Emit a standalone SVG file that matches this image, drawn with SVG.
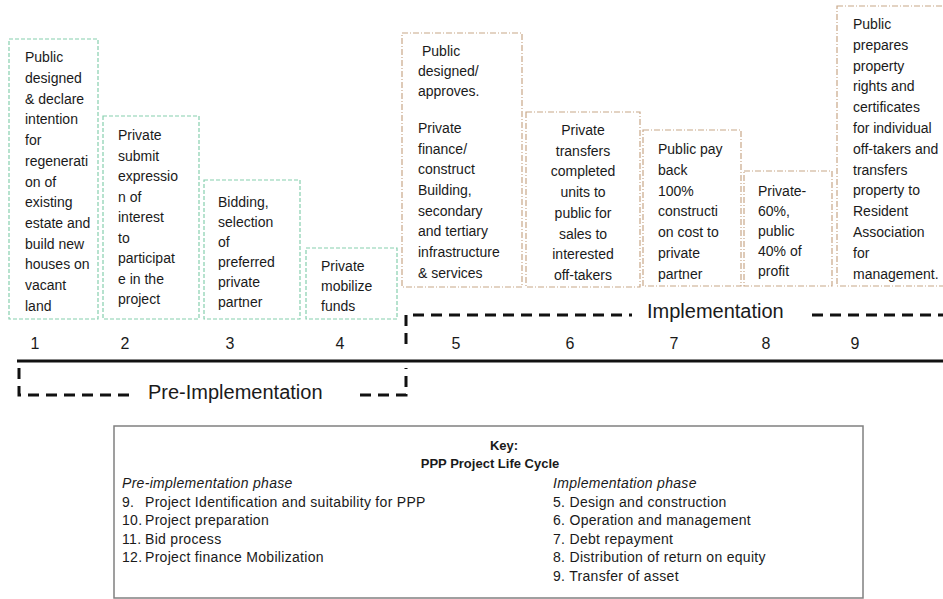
<svg xmlns="http://www.w3.org/2000/svg" width="943" height="599" viewBox="0 0 943 599">
<style>
.bg{fill:#ffffff}
.g{fill:#ffffff;stroke:#86cfae;stroke-width:1.2;stroke-dasharray:4 2}
.o{fill:#ffffff;stroke:#c8a788;stroke-width:1.2;stroke-dasharray:6 2 1 2}
.t{font-family:"Liberation Sans",Arial,sans-serif;font-size:14px;fill:#1a1a1a}
.num{font-family:"Liberation Sans",Arial,sans-serif;font-size:16px;fill:#1a1a1a;text-anchor:middle}
.ph{font-family:"Liberation Sans",Arial,sans-serif;font-size:20px;fill:#1a1a1a}
.dash{fill:none;stroke:#111;stroke-width:3;stroke-dasharray:11 7}
.k{font-family:"Liberation Sans",Arial,sans-serif;font-size:14px;fill:#1a1a1a;letter-spacing:0.3px}
.kb{font-weight:bold;font-size:13px;letter-spacing:0}
.ki{font-style:italic}
</style>
<rect class="bg" x="0" y="0" width="943" height="599"/>

<g id="node1">
<rect class="g" x="9" y="39" width="89" height="280"/>
<text class="t" x="25" y="62.3"><tspan x="25">Public</tspan><tspan x="25" dy="20.7">designed</tspan><tspan x="25" dy="20.7">&amp; declare</tspan><tspan x="25" dy="20.7">intention</tspan><tspan x="25" dy="20.7">for</tspan><tspan x="25" dy="20.7">regenerati</tspan><tspan x="25" dy="20.7">on of</tspan><tspan x="25" dy="20.7">existing</tspan><tspan x="25" dy="20.7">estate and</tspan><tspan x="25" dy="20.7">build new</tspan><tspan x="25" dy="20.7">houses on</tspan><tspan x="25" dy="20.7">vacant</tspan><tspan x="25" dy="20.7">land</tspan></text>
</g>
<g id="node2">
<rect class="g" x="103" y="116" width="96" height="203"/>
<text class="t" x="118" y="140"><tspan x="118">Private</tspan><tspan x="118" dy="20.5">submit</tspan><tspan x="118" dy="20.5">expressio</tspan><tspan x="118" dy="20.5">n of</tspan><tspan x="118" dy="20.5">interest</tspan><tspan x="118" dy="20.5">to</tspan><tspan x="118" dy="20.5">participat</tspan><tspan x="118" dy="20.5">e in the</tspan><tspan x="118" dy="20.5">project</tspan></text>
</g>
<g id="node3">
<rect class="g" x="204" y="180" width="96" height="139"/>
<text class="t" x="218" y="206.7"><tspan x="218">Bidding,</tspan><tspan x="218" dy="20">selection</tspan><tspan x="218" dy="20">of</tspan><tspan x="218" dy="20">preferred</tspan><tspan x="218" dy="20">private</tspan><tspan x="218" dy="20">partner</tspan></text>
</g>
<g id="node4">
<rect class="g" x="306" y="248" width="91" height="71"/>
<text class="t" x="321" y="271"><tspan x="321">Private</tspan><tspan x="321" dy="20">mobilize</tspan><tspan x="321" dy="20">funds</tspan></text>
</g>
<g id="node5">
<rect class="o" x="402" y="33" width="120" height="254"/>
<text class="t" x="418" y="55.7"><tspan x="422">Public</tspan><tspan x="418" dy="20.5">designed/</tspan><tspan x="418" dy="20">approves.</tspan><tspan x="418" dy="36.6">Private</tspan><tspan x="418" dy="20.7">finance/</tspan><tspan x="418" dy="20.7">construct</tspan><tspan x="418" dy="20.7">Building,</tspan><tspan x="418" dy="20.7">secondary</tspan><tspan x="418" dy="20.7">and tertiary</tspan><tspan x="418" dy="20.7">infrastructure</tspan><tspan x="418" dy="20.7">&amp; services</tspan></text>
</g>
<g id="node6">
<rect class="o" x="526" y="112" width="114" height="175"/>
<text class="t" x="583" y="135" text-anchor="middle"><tspan x="583">Private</tspan><tspan x="583" dy="20.7">transfers</tspan><tspan x="583" dy="20.7">completed</tspan><tspan x="583" dy="20.7">units to</tspan><tspan x="583" dy="20.7">public for</tspan><tspan x="583" dy="20.7">sales to</tspan><tspan x="583" dy="20.7">interested</tspan><tspan x="583" dy="20.7">off-takers</tspan></text>
</g>
<g id="node7">
<rect class="o" x="643" y="130" width="98" height="156"/>
<text class="t" x="658" y="154.3"><tspan x="658">Public pay</tspan><tspan x="658" dy="20.7">back</tspan><tspan x="658" dy="20.7">100%</tspan><tspan x="658" dy="20.7">constructi</tspan><tspan x="658" dy="20.7">on cost to</tspan><tspan x="658" dy="20.7">private</tspan><tspan x="658" dy="20.7">partner</tspan></text>
</g>
<g id="node8">
<rect class="o" x="744" y="171" width="88" height="115"/>
<text class="t" x="758" y="195.7"><tspan x="758">Private-</tspan><tspan x="758" dy="20.1">60%,</tspan><tspan x="758" dy="20.1">public</tspan><tspan x="758" dy="20.1">40% of</tspan><tspan x="758" dy="20.1">profit</tspan></text>
</g>
<g id="node9">
<rect class="o" x="837" y="6" width="112" height="280"/>
<text class="t" x="853" y="29"><tspan x="853">Public</tspan><tspan x="853" dy="20.8">prepares</tspan><tspan x="853" dy="20.8">property</tspan><tspan x="853" dy="20.8">rights and</tspan><tspan x="853" dy="20.8">certificates</tspan><tspan x="853" dy="20.8">for individual</tspan><tspan x="853" dy="20.8">off-takers and</tspan><tspan x="853" dy="20.8">transfers</tspan><tspan x="853" dy="20.8">property to</tspan><tspan x="853" dy="20.8">Resident</tspan><tspan x="853" dy="20.8">Association</tspan><tspan x="853" dy="20.8">for</tspan><tspan x="853" dy="20.8">management.</tspan></text>
</g>

<g id="connectors">
<line x1="17" y1="361" x2="943" y2="361" stroke="#111" stroke-width="3"/>
<path class="dash" d="M19 368 V395 H130"/>
<path class="dash" d="M360 395 H406 V368"/>
<path class="dash" d="M406 344 V315 H632"/>
<path class="dash" d="M812 315 H943"/>
</g>

<g id="labels">
<text class="num" x="35" y="349">1</text>
<text class="num" x="125" y="349">2</text>
<text class="num" x="230" y="349">3</text>
<text class="num" x="340" y="349">4</text>
<text class="num" x="456" y="349">5</text>
<text class="num" x="570" y="349">6</text>
<text class="num" x="674" y="349">7</text>
<text class="num" x="766" y="349">8</text>
<text class="num" x="855" y="349">9</text>
<text class="ph" x="148" y="399">Pre-Implementation</text>
<text class="ph" x="647" y="318">Implementation</text>
</g>

<g id="key">
<rect x="114" y="426" width="749" height="172" fill="#ffffff" stroke="#808080" stroke-width="1.5"/>
<text class="k kb" x="504" y="449.5" text-anchor="middle">Key:</text>
<text class="k kb" x="490" y="467.5" text-anchor="middle">PPP Project Life Cycle</text>
<text class="k ki" x="122" y="487.5">Pre-implementation phase</text>
<text class="k" x="122" y="506.5">9.</text><text class="k" x="145" y="506.5">Project Identification and suitability for PPP</text>
<text class="k" x="122" y="525">10.</text><text class="k" x="145" y="525">Project preparation</text>
<text class="k" x="122" y="543.5">11.</text><text class="k" x="145" y="543.5">Bid process</text>
<text class="k" x="122" y="562">12.</text><text class="k" x="145" y="562">Project finance Mobilization</text>
<text class="k ki" x="553" y="487.5">Implementation phase</text>
<text class="k" x="553" y="506.5">5. Design and construction</text>
<text class="k" x="553" y="525">6. Operation and management</text>
<text class="k" x="553" y="543.5">7. Debt repayment</text>
<text class="k" x="553" y="562">8. Distribution of return on equity</text>
<text class="k" x="553" y="580.5">9. Transfer of asset</text>
</g>
</svg>
